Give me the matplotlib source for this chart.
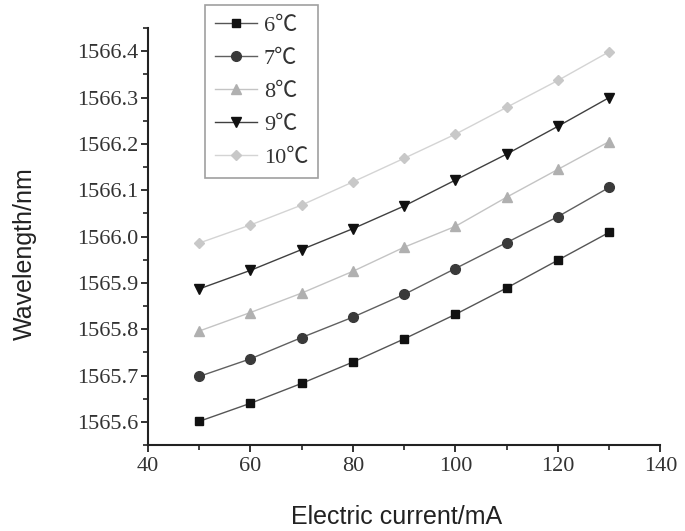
import matplotlib
matplotlib.use('Agg')
import matplotlib.pyplot as plt
from matplotlib.ticker import MultipleLocator

# data
current = [50, 60, 70, 80, 90, 100, 110, 120, 130]
wl_6 = [1565.601, 1565.640, 1565.683, 1565.729, 1565.779, 1565.832, 1565.889, 1565.949, 1566.009]
wl_7 = [1565.698, 1565.736, 1565.782, 1565.826, 1565.875, 1565.931, 1565.987, 1566.043, 1566.106]
wl_8 = [1565.796, 1565.836, 1565.878, 1565.925, 1565.977, 1566.022, 1566.085, 1566.145, 1566.205]
wl_9 = [1565.887, 1565.927, 1565.972, 1566.017, 1566.066, 1566.122, 1566.178, 1566.238, 1566.300]
wl_10 = [1565.986, 1566.025, 1566.068, 1566.118, 1566.169, 1566.221, 1566.279, 1566.337, 1566.399]
labels = ['6℃', '7℃', '8℃', '9℃', '10℃']

series = [wl_6, wl_7, wl_8, wl_9, wl_10]
markers = ['s', 'o', '^', 'v', 'D']
mcolors = ['#111111', '#3a3a3a', '#b0b0b0', '#111111', '#c8c8c8']
lcolors = ['#555555', '#606060', '#c4c4c4', '#404040', '#d4d4d4']
msizes = [6, 7, 7, 7.5, 5.5]

serif = ['Liberation Serif', 'Noto Sans CJK SC', 'DejaVu Serif']

fig = plt.figure(figsize=(6.85, 5.31), dpi=100)
ax = fig.add_axes([0.216, 0.162, 0.748, 0.785])

handles = []
for ys, m, mc, lc, ms, lab in zip(series, markers, mcolors, lcolors, msizes, labels):
    h, = ax.plot(current, ys, marker=m, color=lc, markerfacecolor=mc,
                 markeredgecolor=mc, markersize=ms, linewidth=1.0, label=lab)
    handles.append(h)

ax.set_xlim(40, 140)
ax.set_ylim(1565.55, 1566.45)
ax.xaxis.set_major_locator(MultipleLocator(20))
ax.xaxis.set_minor_locator(MultipleLocator(10))
ax.yaxis.set_major_locator(MultipleLocator(0.1))
ax.yaxis.set_minor_locator(MultipleLocator(0.05))
ax.yaxis.set_major_formatter(plt.FuncFormatter(lambda v, p: f'{v:.1f}'))

for s in ['top', 'right']:
    ax.spines[s].set_visible(False)
for s in ['left', 'bottom']:
    ax.spines[s].set_linewidth(1.5)
    ax.spines[s].set_color('#222222')

ax.tick_params(which='major', direction='out', length=5, width=1.3, color='#222222')
ax.tick_params(which='minor', direction='out', length=3.5, width=1.2, color='#222222')
ax.tick_params(axis='x', pad=4)
ax.tick_params(axis='y', pad=2)
for t in ax.get_xticklabels() + ax.get_yticklabels():
    t.set_family(serif)
    t.set_fontsize(16)
    t.set_color('#333333')

ax.set_xlabel('Electric current/mA', family='Liberation Sans', fontsize=18,
              color='#222222')
ax.set_ylabel('Wavelength/nm', family='Liberation Sans', fontsize=18,
              color='#222222')
ax.xaxis.set_label_coords(0.486, -0.144)
ax.yaxis.set_label_coords(-0.217, 0.458)

leg = fig.legend(handles=handles, loc='upper left',
                 bbox_to_anchor=(205 / 685, 1 - 5 / 531),
                 prop={'family': serif, 'size': 16}, frameon=True,
                 fancybox=False, handlelength=1.9, handletextpad=0.3,
                 labelspacing=0.56, borderpad=0.45, borderaxespad=0)
leg.get_frame().set_edgecolor('#888888')
leg.get_frame().set_linewidth(1.2)
for t in leg.get_texts():
    t.set_color('#333333')

fig.savefig('out.png', dpi=100)
